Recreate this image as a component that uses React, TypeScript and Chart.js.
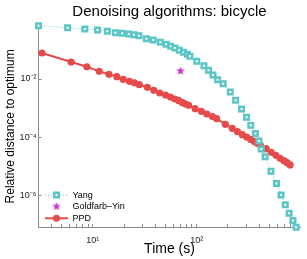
import React, { useEffect, useRef } from 'react';
import { Chart, registerables } from 'chart.js';

Chart.register(...registerables);

const TITLE = 'Denoising algorithms: bicycle';
const X_LABEL = 'Time (s)';
const Y_LABEL = 'Relative distance to optimum';
const SERIES_NAMES = ['Yang', 'Goldfarb–Yin', 'PPD'];

const yangTime = [3.0, 5.72, 8.39, 11.1, 13.8, 16.5, 19.2, 22.2, 24.9, 27.8, 32.8, 38.1, 44.7, 50.9, 56.3, 61.8, 68.0, 74.6, 81.4, 86.2, 100.3, 117.5, 130.1, 143.8, 159.1, 180.0, 210.8, 237.5, 270.4, 302.7, 332.1, 367.7, 397.5, 419.6, 456.4, 519.6, 586.8, 649.6, 712.8, 777.3, 845.9, 908.3];
const yangDist = [0.664, 0.567, 0.512, 0.473, 0.427, 0.383, 0.365, 0.345, 0.327, 0.302, 0.239, 0.215, 0.18, 0.154, 0.133, 0.114, 0.0958, 0.0818, 0.0705, 0.0597, 0.0406, 0.0285, 0.0198, 0.0137, 0.00946, 0.00691, 0.00359, 0.00187, 0.000943, 0.00049, 0.000263, 0.000137, 7.59e-5, 4.04e-5, 2.21e-5, 7.05e-6, 2.68e-6, 1.08e-6, 5.04e-7, 2.58e-7, 1.45e-7, 8.58e-8];

const gyTime = [69.9];
const gyDist = [0.0188];

const ppdTime = [3.24, 6.19, 8.76, 11.53, 14.31, 17.02, 19.63, 22.54, 25.12, 28.0, 33.5, 38.7, 44.1, 50.2, 55.9, 61.8, 67.4, 73.0, 78.4, 83.7, 96.7, 110.9, 125.4, 141.9, 155.7, 189.2, 220.1, 246.9, 275.1, 302.7, 330.0, 356.7, 383.9, 409.7, 466.5, 523.0, 579.1, 635.7, 693.0, 744.2, 794.3];
const ppdDist = [0.0774, 0.0381, 0.0263, 0.0183, 0.01448, 0.01199, 0.00977, 0.00834, 0.00742, 0.00639, 0.0052, 0.00411, 0.00332, 0.00284, 0.00242, 0.00207, 0.00181, 0.00155, 0.0014, 0.00126, 0.000965, 0.000786, 0.000636, 0.000522, 0.000439, 0.000283, 0.000206, 0.000158, 0.000125, 0.000104, 8.68e-5, 7.42e-5, 6.33e-5, 5.54e-5, 4.14e-5, 3.12e-5, 2.46e-5, 1.94e-5, 1.61e-5, 1.38e-5, 1.15e-5];

const xTickValues = [3, 4, 5, 6, 7, 8, 9, 10, 20, 30, 40, 50, 60, 70, 80, 90, 100, 200, 300, 400, 500, 600, 700, 800, 900];
const xLabelValues = [10, 100];
const xLabelTexts = ['10¹', '10²'];
const yTickValues = [1e-6, 1e-4, 1e-2];
const yTickTexts = ['10⁻⁶', '10⁻⁴', '10⁻²'];

const X_MIN = 3;
const X_MAX = 1000;
const Y_MIN = 8.7e-8;
const Y_MAX = 0.665;

const YANG_COLOR = '#5cc6c6';
const GY_COLOR = '#cc33cc';
const PPD_COLOR = '#e64b4b';
const AXIS_COLOR = '#8a8a8a';
const FONT = '"Liberation Sans", Arial, Helvetica, sans-serif';

function makeStar(color: string, r: number): HTMLCanvasElement {
  const c = document.createElement('canvas');
  const s = Math.ceil(r * 2 + 2);
  c.width = s;
  c.height = s;
  const ctx = c.getContext('2d')!;
  ctx.beginPath();
  for (let i = 0; i < 10; i++) {
    const a = -Math.PI / 2 + (i * Math.PI) / 5;
    const rad = i % 2 === 0 ? r : r * 0.42;
    ctx.lineTo(s / 2 + rad * Math.cos(a), s / 2 + rad * Math.sin(a));
  }
  ctx.closePath();
  ctx.fillStyle = color;
  ctx.fill();
  return c;
}

function toPoints(xs: number[], ys: number[]) {
  return xs.map((x, i) => ({ x, y: ys[i] }));
}

export default function App() {
  const ref = useRef<HTMLCanvasElement | null>(null);

  useEffect(() => {
    if (!ref.current) return;
    const star = makeStar(GY_COLOR, 4.6);

    const overlay = {
      id: 'overlay',
      afterDraw(chart: any) {
        const { ctx, chartArea } = chart;
        ctx.save();
        // title
        ctx.fillStyle = '#000';
        ctx.font = `15px ${FONT}`;
        ctx.textAlign = 'center';
        ctx.textBaseline = 'alphabetic';
        ctx.fillText(TITLE, (chartArea.left + chartArea.right) / 2, 16);

        // legend
        const lx0 = chartArea.left + 6.5;
        const lx1 = chartArea.left + 29.5;
        const mx = (lx0 + lx1) / 2;
        const tx = chartArea.left + 34;
        const rows = [195, 206.5, 218.3];
        ctx.font = `9px ${FONT}`;
        ctx.textAlign = 'left';
        ctx.textBaseline = 'middle';

        // Yang
        ctx.strokeStyle = YANG_COLOR;
        ctx.lineWidth = 1;
        ctx.setLineDash([1, 2]);
        ctx.beginPath();
        ctx.moveTo(lx0, rows[0]);
        ctx.lineTo(lx1, rows[0]);
        ctx.stroke();
        ctx.setLineDash([]);
        ctx.lineWidth = 2.5;
        ctx.fillStyle = '#fff';
        ctx.beginPath();
        ctx.rect(mx - 2.25, rows[0] - 2.25, 4.5, 4.5);
        ctx.fill();
        ctx.stroke();

        // Goldfarb-Yin
        ctx.drawImage(star, mx - star.width / 2, rows[1] - star.height / 2);

        // PPD
        ctx.strokeStyle = PPD_COLOR;
        ctx.lineWidth = 2;
        ctx.beginPath();
        ctx.moveTo(lx0, rows[2]);
        ctx.lineTo(lx1, rows[2]);
        ctx.stroke();
        ctx.fillStyle = PPD_COLOR;
        ctx.beginPath();
        ctx.arc(mx, rows[2], 3.5, 0, Math.PI * 2);
        ctx.fill();

        ctx.fillStyle = '#000';
        SERIES_NAMES.forEach((n, i) => ctx.fillText(n, tx, rows[i] + 0.5));
        ctx.restore();
      },
    };

    const chart = new Chart(ref.current, {
      type: 'scatter',
      data: {
        datasets: [
          {
            label: SERIES_NAMES[0],
            data: toPoints(yangTime, yangDist),
            showLine: true,
            borderColor: YANG_COLOR,
            borderWidth: 1,
            borderDash: [1, 2],
            pointStyle: 'rect',
            pointRadius: 3.2,
            pointBorderWidth: 2.5,
            pointBorderColor: YANG_COLOR,
            pointBackgroundColor: '#ffffff',
            clip: false,
          } as any,
          {
            label: SERIES_NAMES[1],
            data: toPoints(gyTime, gyDist),
            showLine: false,
            pointStyle: star,
            pointRadius: 5,
            clip: false,
          } as any,
          {
            label: SERIES_NAMES[2],
            data: toPoints(ppdTime, ppdDist),
            showLine: true,
            borderColor: PPD_COLOR,
            borderWidth: 2,
            pointStyle: 'circle',
            pointRadius: 3.6,
            pointBorderWidth: 0,
            pointBackgroundColor: PPD_COLOR,
            clip: false,
          } as any,
        ],
      },
      options: {
        animation: false,
        responsive: true,
        maintainAspectRatio: false,
        layout: { padding: { top: 25.7, right: 0, left: 0, bottom: 0 } },
        plugins: {
          legend: { display: false },
          tooltip: { enabled: false },
          title: { display: false },
        },
        scales: {
          x: {
            type: 'logarithmic',
            position: 'bottom',
            min: X_MIN,
            max: X_MAX,
            bounds: 'data',
            border: { display: true, color: AXIS_COLOR, width: 1 },
            grid: { drawOnChartArea: false, drawTicks: true, tickLength: -3, color: AXIS_COLOR, tickColor: AXIS_COLOR },
            ticks: {
              autoSkip: false,
              maxRotation: 0,
              padding: 11,
              color: '#222',
              font: { family: FONT, size: 9 },
              callback: (v: any) => {
                const i = xLabelValues.indexOf(Number(v));
                return i >= 0 ? xLabelTexts[i] : '';
              },
            },
            title: { display: true, text: X_LABEL, color: '#000', font: { family: FONT, size: 14 }, padding: { top: 0, bottom: 1 } },
            afterBuildTicks: (scale: any) => {
              scale.ticks = xTickValues.map((v) => ({ value: v }));
            },
            afterFit: (scale: any) => {
              scale.height = 32;
            },
          },
          y: {
            type: 'logarithmic',
            position: 'left',
            min: Y_MIN,
            max: Y_MAX,
            bounds: 'data',
            border: { display: true, color: AXIS_COLOR, width: 1 },
            grid: { drawOnChartArea: false, drawTicks: true, tickLength: -3, color: AXIS_COLOR, tickColor: AXIS_COLOR },
            ticks: {
              autoSkip: false,
              padding: 5,
              color: '#222',
              font: { family: FONT, size: 9 },
              callback: (v: any) => {
                const i = yTickValues.findIndex((t) => Math.abs(Math.log10(t) - Math.log10(Number(v))) < 1e-6);
                return i >= 0 ? yTickTexts[i] : '';
              },
            },
            title: { display: true, text: Y_LABEL, color: '#000', font: { family: FONT, size: 12 }, padding: { top: 3.3, bottom: 0 } },
            afterBuildTicks: (scale: any) => {
              scale.ticks = yTickValues.map((v) => ({ value: v }));
            },
            afterFit: (scale: any) => {
              scale.width = 38.5;
            },
          },
        },
      },
      plugins: [overlay],
    } as any);

    return () => chart.destroy();
  }, []);

  return (
    <div style={{ position: 'fixed', left: 0, top: 0, width: 307, height: 259, background: '#fff' }}>
      <canvas ref={ref} />
    </div>
  );
}
